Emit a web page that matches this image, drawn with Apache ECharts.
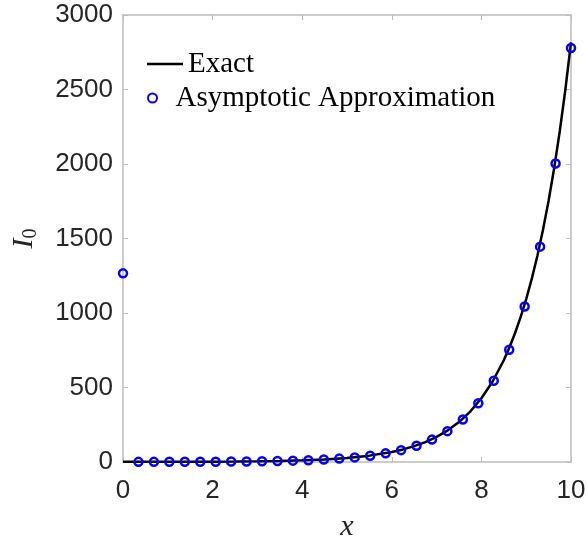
<!DOCTYPE html>
<html>
<head>
<meta charset="utf-8">
<script src="https://cdn.jsdelivr.net/npm/echarts@6/dist/echarts.min.js"></script>
<style>html,body{margin:0;padding:0;background:#fff}#c{width:587px;height:542px}</style>
</head>
<body>
<div id="c"></div>
<script>
const xExact = [0,0.5,1,1.5,2,2.5,3,3.5,4,4.5,5,5.5,6,6.25,6.5,6.75,7,7.25,7.5,7.75,8,8.25,8.5,8.625,8.75,8.875,9,9.125,9.25,9.375,9.5,9.625,9.75,9.875,10];
const yExact = [1,1.0635,1.2661,1.6467,2.2796,3.2898,4.8808,7.3782,11.302,17.481,27.240,42.695,67.234,84.46,106.29,133.8,168.59,212.5,268.16,338.4,427.56,540.2,683.16,768.3,864.0,972.0,1093.6,1230.4,1384.4,1558.0,1753.4,1973.6,2221.4,2501.0,2815.7];
const xAsym = [0,0.3448,0.6897,1.0345,1.3793,1.7241,2.0690,2.4138,2.7586,3.1034,3.4483,3.7931,4.1379,4.4828,4.8276,5.1724,5.5172,5.8621,6.2069,6.5517,6.8966,7.2414,7.5862,7.9310,8.2759,8.6207,8.9655,9.3103,9.6552,10];
const yAsym = [1266,0.959,0.957,1.104,1.349,1.704,2.196,2.870,3.790,5.045,6.756,9.095,12.29,16.67,22.68,30.94,42.29,57.92,79.47,109.2,150.3,207.0,285.5,394.2,544.8,753.7,1043.4,1445.4,2003.9,2778.7];
const xTicks = [0,2,4,6,8,10];
const yTicks = [0,500,1000,1500,2000,2500,3000];

const chart = echarts.init(document.getElementById('c'), null, {renderer:'canvas'});
const axisGrey = '#bcbcbc';
const labelFont = {fontFamily:'Liberation Sans', fontSize:26, color:'#262626'};
const baseAxis = {
  axisLine:{show:true, onZero:false, lineStyle:{color:axisGrey, width:1.5}},
  axisTick:{show:true, inside:true, length:5, lineStyle:{color:axisGrey, width:1}},
  splitLine:{show:false}
};
chart.setOption({
  animation:false,
  backgroundColor:'#fff',
  grid:{left:123, right:16, top:15, bottom:80, containLabel:false, outerBoundsMode:'none'},
  legend:[
    {data:[{name:'Exact', icon:'path://M0,0H36V2.5H0Z'}], left:147, top:49, orient:'vertical', padding:0, itemWidth:36, itemHeight:14,
     itemGap:0, textStyle:{fontFamily:'Liberation Serif', fontSize:29, color:'#000', lineHeight:30}},
    {data:['Asymptotic Approximation'], left:147, top:83, orient:'vertical', padding:0, itemWidth:36, itemHeight:9,
     itemGap:0, textStyle:{fontFamily:'Liberation Serif', fontSize:29, color:'#000', lineHeight:30}}
  ],
  xAxis:[
    Object.assign({}, baseAxis, {type:'value', min:0, max:10, interval:2, position:'bottom',
      axisLabel:Object.assign({margin:16, formatter:v=>xTicks.includes(v)?String(v):''}, labelFont),
      name:'x', nameLocation:'middle', nameGap:50,
      nameTextStyle:{fontFamily:'Liberation Serif', fontStyle:'italic', fontSize:30, color:'#262626'}}),
    Object.assign({}, baseAxis, {type:'value', min:0, max:10, interval:2, position:'top', axisLabel:{show:false}})
  ],
  yAxis:[
    Object.assign({}, baseAxis, {type:'value', min:0, max:3000, interval:500, position:'left',
      axisLabel:Object.assign({margin:10, formatter:v=>yTicks.includes(v)?String(v):''}, labelFont),
      name:'{i|I}{s|0}', nameLocation:'middle', nameGap:82, nameRotate:90,
      nameTextStyle:{rich:{
        i:{fontFamily:'Liberation Serif', fontStyle:'italic', fontSize:30, color:'#262626'},
        s:{fontFamily:'Liberation Serif', fontSize:20, color:'#262626', padding:[14,0,0,0]}
      }}}),
    Object.assign({}, baseAxis, {type:'value', min:0, max:3000, interval:500, position:'right', axisLabel:{show:false}})
  ],
  series:[
    {name:'Exact', type:'line', data:xExact.map((x,i)=>[x,yExact[i]]), showSymbol:false, symbol:'none',
     lineStyle:{color:'#000', width:2.5}, itemStyle:{color:'#000'}, z:2, clip:false},
    {name:'Asymptotic Approximation', type:'scatter', data:xAsym.map((x,i)=>[x,yAsym[i]]), symbol:'circle', symbolSize:8,
     itemStyle:{color:'rgba(0,0,0,0)', borderColor:'#0000ff', borderWidth:2.5, opacity:1}, z:3, clip:false}
  ]
});
</script>
</body>
</html>
